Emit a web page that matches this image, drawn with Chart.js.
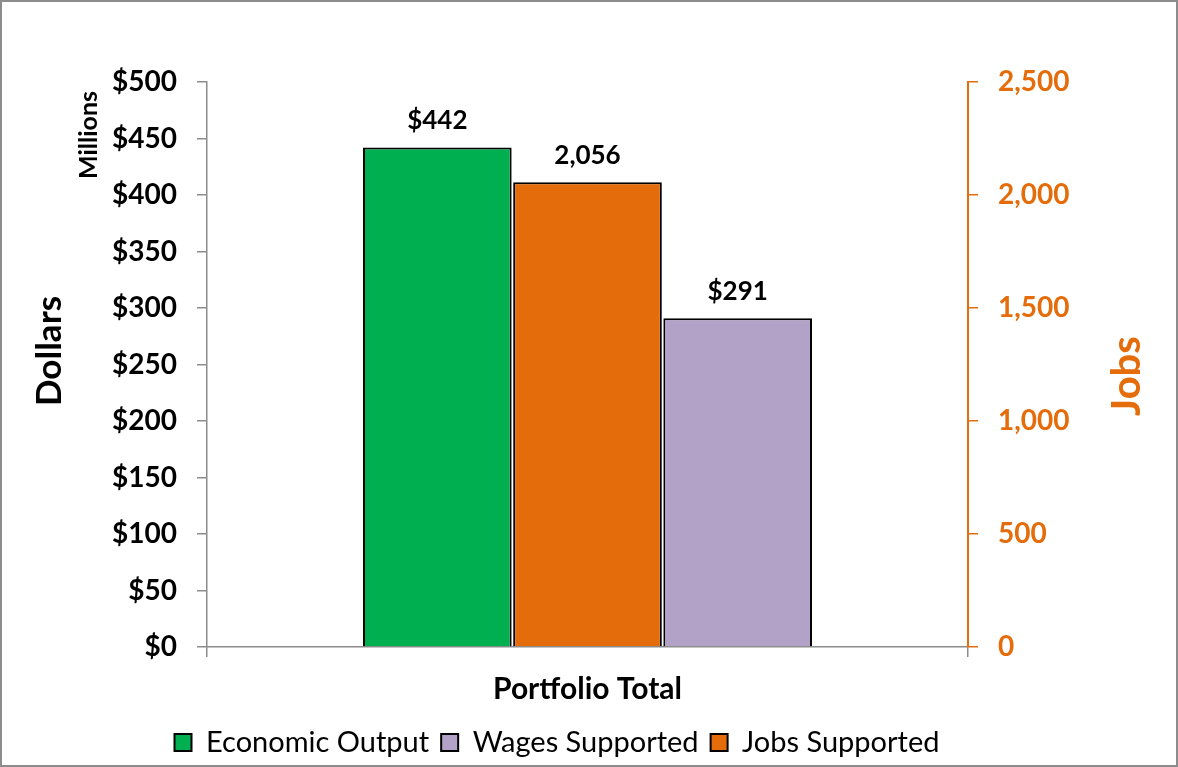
<!DOCTYPE html>
<html>
<head>
<meta charset="utf-8">
<script src="https://cdn.jsdelivr.net/npm/chart.js@4.4.1/dist/chart.umd.min.js"></script>
<style>
  html, body { margin: 0; padding: 0; background: #fff; }
  #wrap { width: 1178px; height: 767px; }
</style>
</head>
<body>
<div id="wrap"><canvas id="impactChart" width="1178" height="767"></canvas></div>
<script>
const categories = ["Portfolio Total"];
const economicOutput = [442];   // $ millions
const jobsSupported = [2056];   // jobs
const wagesSupported = [291];   // $ millions
const legendOrder = ["Economic Output", "Wages Supported", "Jobs Supported"];

const FONT = "Lato, 'Open Sans', sans-serif";
const ORANGE = "#E46C0A";
const AXIS_GREY = "#8c8c8c";

const fmtDollar = v => "$" + Math.round(v).toLocaleString("en-US");
const fmtJobs = v => Math.round(v).toLocaleString("en-US");

function rotatedText(ctx, txt, x, y, font, color) {
  ctx.save();
  ctx.font = font;
  ctx.fillStyle = color;
  ctx.textAlign = "center";
  ctx.textBaseline = "middle";
  ctx.translate(x, y);
  ctx.rotate(-Math.PI / 2);
  ctx.fillText(txt, 0, 0);
  ctx.restore();
}

// frame, labels above bars, axis titles
const extras = {
  id: "extras",
  beforeDraw(chart) {
    const ctx = chart.ctx;
    ctx.save();
    ctx.fillStyle = "#fff";
    ctx.fillRect(0, 0, chart.width, chart.height);
    ctx.strokeStyle = AXIS_GREY;
    ctx.lineWidth = 2;
    ctx.strokeRect(1, 1, chart.width - 2, chart.height - 2);
    ctx.restore();
  },
  afterDatasetsDraw(chart) {
    const ctx = chart.ctx;
    ctx.save();
    ctx.font = "bold 26px " + FONT;
    ctx.fillStyle = "#000";
    ctx.textAlign = "center";
    ctx.textBaseline = "middle";
    chart.data.datasets.forEach((ds, i) => {
      chart.getDatasetMeta(i).data.forEach((bar, j) => {
        const v = ds.data[j];
        const txt = ds.yAxisID === "y1" ? fmtJobs(v) : fmtDollar(v);
        ctx.fillText(txt, bar.x, bar.y - 27);
      });
    });
    ctx.restore();
    rotatedText(ctx, "Dollars", 50, 351, "bold 35px " + FONT, "#000");
    rotatedText(ctx, "Millions", 89, 135, "bold 25px " + FONT, "#000");
    rotatedText(ctx, "Jobs", 1127, 376, "bold 40px " + FONT, ORANGE);
  }
};

new Chart(document.getElementById("impactChart"), {
  type: "bar",
  data: {
    labels: categories,
    datasets: [{
      label: "Economic Output",
      data: economicOutput,
      backgroundColor: "#00B050",
      borderColor: "#000",
      borderWidth: 2,
      yAxisID: "y"
    }, {
      label: "Jobs Supported",
      data: jobsSupported,
      backgroundColor: ORANGE,
      borderColor: "#000",
      borderWidth: 2,
      yAxisID: "y1"
    }, {
      label: "Wages Supported",
      data: wagesSupported,
      backgroundColor: "#B3A2C7",
      borderColor: "#000",
      borderWidth: 2,
      yAxisID: "y"
    }]
  },
  options: {
    responsive: false,
    animation: false,
    barPercentage: 0.99,
    categoryPercentage: 0.592,
    layout: { padding: { top: 82, left: 26, right: 90, bottom: 0 } },
    plugins: {
      tooltip: { enabled: false },
      legend: {
        position: "bottom",
        labels: {
          font: { family: FONT, size: 29 },
          color: "#000",
          boxWidth: 17,
          boxHeight: 17,
          padding: 12,
          sort: (a, b) => legendOrder.indexOf(a.text) - legendOrder.indexOf(b.text)
        }
      }
    },
    scales: {
      x: {
        grid: { drawOnChartArea: false, offset: true, color: AXIS_GREY, tickLength: 10, lineWidth: 1.5 },
        border: { color: AXIS_GREY, width: 1.5 },
        ticks: { color: "#000", font: { family: FONT, size: 30, weight: "bold" }, padding: 14 },
        afterFit: s => { s.height = 69; }
      },
      y: {
        position: "left",
        min: 0, max: 500,
        ticks: { stepSize: 50, callback: v => fmtDollar(v), color: "#000", font: { family: FONT, size: 28, weight: "bold" }, padding: 20 },
        grid: { drawOnChartArea: false, color: AXIS_GREY, tickLength: 10, lineWidth: 1.5 },
        border: { color: AXIS_GREY, width: 1.5 },
        afterFit: s => { s.width = 207 - 26; }
      },
      y1: {
        position: "right",
        min: 0, max: 2500,
        ticks: { stepSize: 500, callback: v => fmtJobs(v), color: ORANGE, font: { family: FONT, size: 28, weight: "bold" }, padding: 20 },
        grid: { drawOnChartArea: false, color: ORANGE, tickLength: 10, lineWidth: 1.5 },
        border: { color: ORANGE, width: 2 },
        afterFit: s => { s.width = 1178 - 968 - 90; }
      }
    }
  },
  plugins: [extras]
});
</script>
</body>
</html>
